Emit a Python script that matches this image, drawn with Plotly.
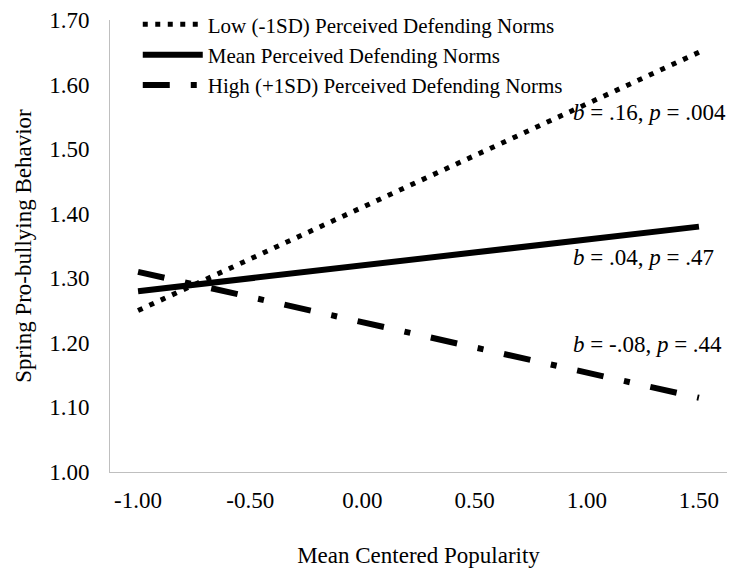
import plotly.graph_objects as go

x_vals = [-1.0, 1.5]
low_vals = [1.25, 1.65]
mean_vals = [1.28, 1.38]
high_vals = [1.31, 1.115]
series_names = ["Low (-1SD) Perceived Defending Norms",
                "Mean Perceived Defending Norms",
                "High (+1SD) Perceived Defending Norms"]
x_ticks = [-1.0, -0.5, 0.0, 0.5, 1.0, 1.5]
x_ticklabels = ["-1.00", "-0.50", "0.00", "0.50", "1.00", "1.50"]
y_ticks = [1.0, 1.1, 1.2, 1.3, 1.4, 1.5, 1.6, 1.7]
y_ticklabels = ["1.00", "1.10", "1.20", "1.30", "1.40", "1.50", "1.60", "1.70"]
stat_labels = ["<i>b</i> = .16, <i>p</i> = .004",
               "<i>b</i> = .04, <i>p</i> = .47",
               "<i>b</i> = -.08, <i>p</i> = .44"]
stat_y = [1.556, 1.332, 1.197]

FONT = "Liberation Serif"
FS = 23
LFS = 21
fig = go.Figure()
fig.add_trace(go.Scatter(x=x_vals, y=low_vals, mode="lines", name=series_names[0],
                         line=dict(color="black", width=5, dash="5px,7.5px")))
fig.add_trace(go.Scatter(x=x_vals, y=mean_vals, mode="lines", name=series_names[1],
                         line=dict(color="black", width=6)))
fig.add_trace(go.Scatter(x=x_vals, y=high_vals, mode="lines", name=series_names[2],
                         line=dict(color="black", width=6, dash="27px,21px,6px,21px")))

for txt, yv in zip(stat_labels, stat_y):
    fig.add_annotation(x=0.93, y=yv, xref="x", yref="y", text=txt, showarrow=False,
                       xanchor="left", yanchor="middle",
                       font=dict(family=FONT, size=FS, color="black"))

# the page body adds an 8px margin, so the figure is 8px smaller than the window
fig.update_layout(
    width=728, height=560,
    margin=dict(l=102, r=9, t=12, b=96, autoexpand=False),
    plot_bgcolor="white", paper_bgcolor="white",
    font=dict(family=FONT, size=FS, color="black"),
    showlegend=True,
    legend=dict(x=0.045, y=1.035, xanchor="left", yanchor="top",
                bgcolor="rgba(0,0,0,0)", font=dict(family=FONT, size=LFS),
                itemwidth=60, tracegroupgap=0),
    xaxis=dict(range=[-1.125, 1.625], tickvals=x_ticks, ticktext=x_ticklabels,
               showgrid=False, zeroline=False, showline=True, linecolor="#bfbfbf",
               linewidth=1, ticks="", tickfont=dict(size=FS), automargin=False,
               ticklabelstandoff=7,
               title=dict(text="Mean Centered Popularity", standoff=36, font=dict(size=FS))),
    yaxis=dict(range=[1.0, 1.7], tickvals=y_ticks, ticktext=y_ticklabels,
               showgrid=False, zeroline=False, showline=True, linecolor="#bfbfbf",
               linewidth=1, ticks="", tickfont=dict(size=FS), automargin=False,
               ticklabelstandoff=15,
               title=dict(text="Spring Pro-bullying Behavior", standoff=11, font=dict(size=FS))),
)
fig.write_html("out.html")
